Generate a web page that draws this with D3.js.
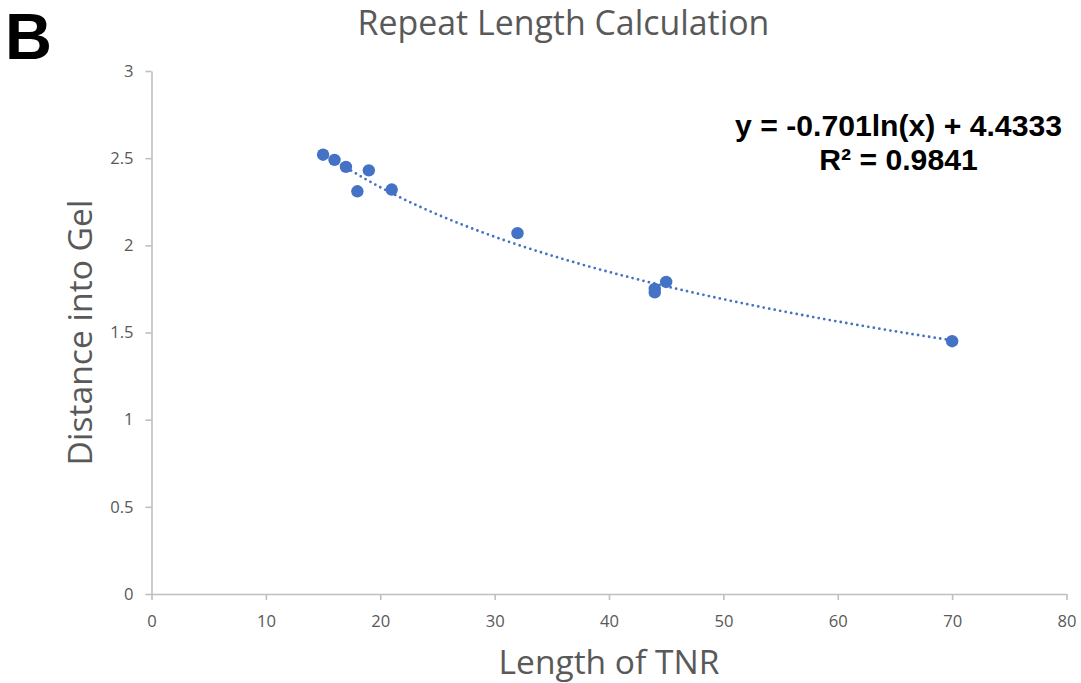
<!DOCTYPE html>
<html>
<head>
<meta charset="utf-8">
<script src="https://cdn.jsdelivr.net/npm/d3@7"></script>
<style>
  html, body { margin: 0; padding: 0; background: #ffffff; }
  svg { display: block; }
</style>
</head>
<body>
<svg id="chart" width="1081" height="683"></svg>
<script>
// ---- Data ----
const lengthTNR = [15, 16, 17, 18, 19, 21, 32, 44, 44, 45, 70];
const distanceIntoGel = [2.52, 2.49, 2.45, 2.31, 2.43, 2.32, 2.07, 1.75, 1.73, 1.79, 1.45];
const xTicks = [0, 10, 20, 30, 40, 50, 60, 70, 80];
const yTicks = [0, 0.5, 1, 1.5, 2, 2.5, 3];
// Logarithmic trendline as printed on the chart
const trendSlope = -0.701;
const trendIntercept = 4.4333;
const trendR2 = "0.9841";
const chartTitle = "Repeat Length Calculation";
const xTitle = "Length of TNR";
const yTitle = "Distance into Gel";
const panelLabel = "B";

// ---- Layout ----
const svg = d3.select("#chart");
const x = d3.scaleLinear().domain([0, 80]).range([151.5, 1066.5]);
const y = d3.scaleLinear().domain([0, 3]).range([594, 71]);
const grayText = "#595959";
const axisColor = "#BFBFBF";
const blue = "#4472C4";
const labelFont = "'Open Sans', 'Noto Sans', sans-serif";

function fitWidth(sel, target) {
  const w = sel.node().getComputedTextLength();
  const fs = parseFloat(sel.attr("font-size"));
  if (w > 0) sel.attr("font-size", fs * target / w);
  return sel;
}

// Axes
const xAxis = svg.append("g")
  .attr("transform", `translate(0,${y(0)})`)
  .call(d3.axisBottom(x).tickValues(xTicks).tickFormat(d3.format("d"))
        .tickSizeInner(6).tickSizeOuter(0).tickPadding(15));
const yAxis = svg.append("g")
  .attr("transform", `translate(${x(0)},0)`)
  .call(d3.axisLeft(y).tickValues(yTicks).tickFormat(d => String(d))
        .tickSizeInner(6).tickSizeOuter(0).tickPadding(12));

[xAxis, yAxis].forEach(g => {
  g.select(".domain").attr("stroke", axisColor).attr("stroke-width", 1.6);
  g.selectAll(".tick line").attr("stroke", axisColor).attr("stroke-width", 1.6);
  g.selectAll(".tick text")
    .attr("fill", grayText)
    .attr("font-family", labelFont)
    .attr("font-size", 16.6);
});

// Trendline (dotted)
const trendX = d3.range(d3.min(lengthTNR), d3.max(lengthTNR) + 0.001, 0.25);
const line = d3.line()
  .x(d => x(d))
  .y(d => y(trendSlope * Math.log(d) + trendIntercept));
svg.append("path")
  .datum(trendX)
  .attr("d", line)
  .attr("fill", "none")
  .attr("stroke", blue)
  .attr("stroke-width", 2.8)
  .attr("stroke-linecap", "round")
  .attr("stroke-dasharray", "0,5.6");

// Points
svg.append("g")
  .selectAll("circle")
  .data(lengthTNR.map((d, i) => [d, distanceIntoGel[i]]))
  .join("circle")
  .attr("cx", d => x(d[0]))
  .attr("cy", d => y(d[1]))
  .attr("r", 6.2)
  .attr("fill", blue);

// Title
const title = svg.append("text")
  .attr("x", 563.5).attr("y", 35)
  .attr("text-anchor", "middle")
  .attr("font-family", labelFont)
  .attr("font-size", 30)
  .attr("fill", grayText)
  .text(chartTitle);
fitWidth(title, 412);

// X axis title
const xt = svg.append("text")
  .attr("x", (x(0) + x(80)) / 2).attr("y", 674)
  .attr("text-anchor", "middle")
  .attr("font-family", labelFont)
  .attr("font-size", 34)
  .attr("fill", grayText)
  .text(xTitle);
fitWidth(xt, 221);

// Y axis title
const yt = svg.append("text")
  .attr("transform", `translate(91.5,${(y(0) + y(3)) / 2}) rotate(-90)`)
  .attr("text-anchor", "middle")
  .attr("font-family", labelFont)
  .attr("font-size", 34)
  .attr("fill", grayText)
  .text(yTitle);
fitWidth(yt, 266);

// Equation
const eq1 = svg.append("text")
  .attr("x", 898.5).attr("y", 136)
  .attr("text-anchor", "middle")
  .attr("font-family", "'Liberation Sans', Arial, sans-serif")
  .attr("font-weight", "bold")
  .attr("font-size", 30)
  .attr("fill", "#000000")
  .text(`y = ${trendSlope}ln(x) + ${trendIntercept}`);
fitWidth(eq1, 327);
svg.append("text")
  .attr("x", 898.5).attr("y", 170)
  .attr("text-anchor", "middle")
  .attr("font-family", "'Liberation Sans', Arial, sans-serif")
  .attr("font-weight", "bold")
  .attr("font-size", eq1.attr("font-size"))
  .attr("fill", "#000000")
  .text(`R² = ${trendR2}`);

// Panel label
svg.append("text")
  .attr("x", 5).attr("y", 59)
  .attr("font-family", "'Liberation Sans', Arial, sans-serif")
  .attr("font-weight", "bold")
  .attr("font-size", 65)
  .attr("fill", "#000000")
  .text(panelLabel);
</script>
</body>
</html>
